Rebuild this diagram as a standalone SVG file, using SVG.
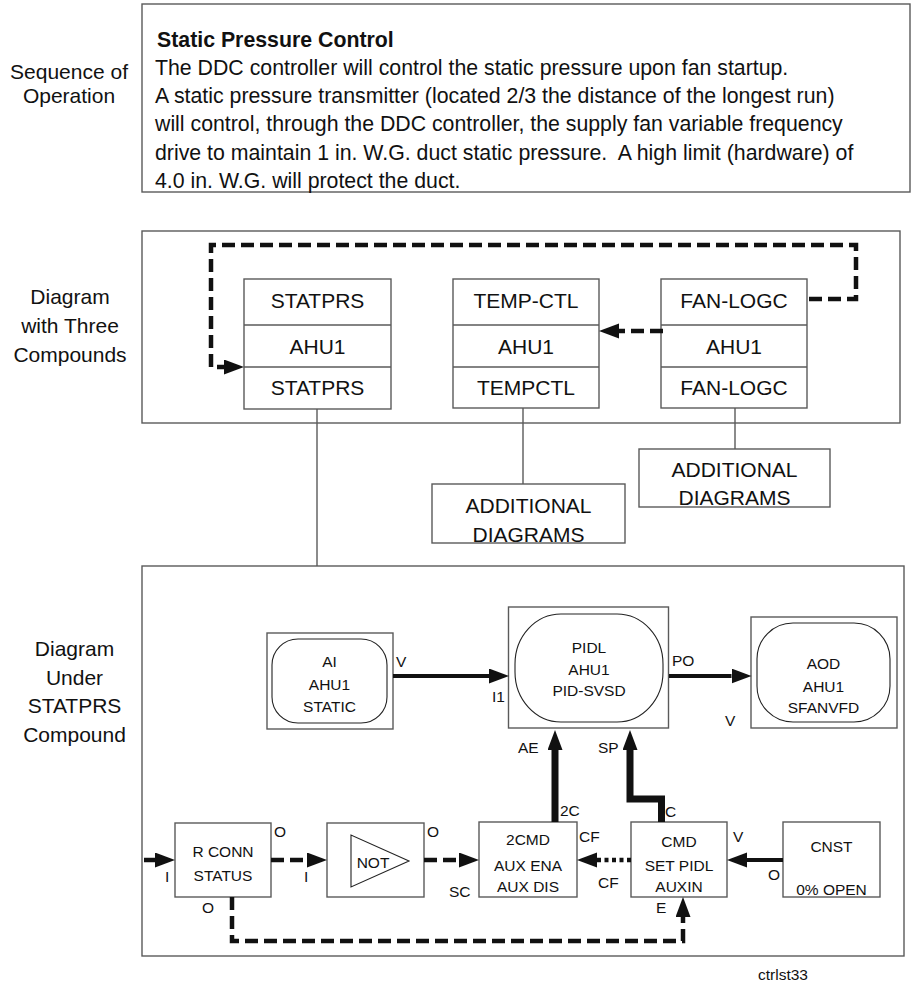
<svg xmlns="http://www.w3.org/2000/svg" width="921" height="985" viewBox="0 0 921 985">
  <style>
    text { font-family: "Liberation Sans", Arial, sans-serif; fill: #111; }
    .big { font-size: 21px; }
    .para { font-size: 21.3px; }
    .sm { font-size: 15.5px; }
    .mid { text-anchor: middle; }
    .bold { font-weight: bold; }
    .frame { fill: none; stroke: #5a5a5a; stroke-width: 1.4; }
    .box { fill: #fff; stroke: #5a5a5a; stroke-width: 1.4; }
    .inner { fill: #fff; stroke: #222; stroke-width: 1.1; }
    .tie { fill: none; stroke: #5a5a5a; stroke-width: 1.4; }
    .dash { fill: none; stroke: #111; stroke-width: 4.5; stroke-dasharray: 13 6; }
    .dot { fill: none; stroke: #111; stroke-width: 4.5; stroke-dasharray: 4 3.5; }
    .solid { fill: none; stroke: #111; stroke-width: 4; }
    .heavy { fill: none; stroke: #111; stroke-width: 7; stroke-linejoin: miter; }
  </style>
  <defs>
    <marker id="head" markerUnits="userSpaceOnUse" markerWidth="22" markerHeight="16" refX="0" refY="7.5" orient="auto">
      <path d="M0,0 L20,7.5 L0,15 z" fill="#111"/>
    </marker>
  </defs>

  <rect width="921" height="985" fill="#fff"/>

  <!-- Sequence of operation -->
  <g id="seq-label">
    <text class="big mid" x="69" y="79">Sequence of</text>
    <text class="big mid" x="69" y="103">Operation</text>
  </g>
  <g id="seq-text">
    <rect class="frame" x="142" y="4" width="768" height="188"/>
    <text class="para bold" x="157" y="47">Static Pressure Control</text>
    <text class="para" x="155" y="75">The DDC controller will control the static pressure upon fan startup.</text>
    <text class="para" x="155" y="103">A static pressure transmitter (located 2/3 the distance of the longest run)</text>
    <text class="para" x="155" y="131">will control, through the DDC controller, the supply fan variable frequency</text>
    <text class="para" x="155" y="160" xml:space="preserve">drive to maintain 1 in. W.G. duct static pressure.  A high limit (hardware) of</text>
    <text class="para" x="155" y="188">4.0 in. W.G. will protect the duct.</text>
  </g>

  <!-- Diagram with three compounds -->
  <g id="compounds-label">
    <text class="big mid" x="70" y="304">Diagram</text>
    <text class="big mid" x="70" y="333">with Three</text>
    <text class="big mid" x="70" y="362">Compounds</text>
  </g>
  <rect id="compounds-frame" class="frame" x="142" y="231" width="758" height="192"/>

  <g id="statprs">
    <rect class="box" x="244" y="279" width="147" height="130"/>
    <line class="tie" x1="244" y1="325" x2="391" y2="325"/>
    <line class="tie" x1="244" y1="367" x2="391" y2="367"/>
    <text class="big mid" x="317.5" y="308">STATPRS</text>
    <text class="big mid" x="317.5" y="354">AHU1</text>
    <text class="big mid" x="317.5" y="395">STATPRS</text>
  </g>
  <g id="temp-ctl">
    <rect class="box" x="453" y="279" width="146" height="129"/>
    <line class="tie" x1="453" y1="325" x2="599" y2="325"/>
    <line class="tie" x1="453" y1="367" x2="599" y2="367"/>
    <text class="big mid" x="526" y="308">TEMP-CTL</text>
    <text class="big mid" x="526" y="354">AHU1</text>
    <text class="big mid" x="526" y="395">TEMPCTL</text>
  </g>
  <g id="fan-logc">
    <rect class="box" x="661" y="279" width="146" height="129"/>
    <line class="tie" x1="661" y1="325" x2="807" y2="325"/>
    <line class="tie" x1="661" y1="367" x2="807" y2="367"/>
    <text class="big mid" x="734" y="308">FAN-LOGC</text>
    <text class="big mid" x="734" y="354">AHU1</text>
    <text class="big mid" x="734" y="395">FAN-LOGC</text>
  </g>
  <g id="additional-1">
    <rect class="box" x="432" y="484" width="193" height="59"/>
    <text class="big mid" x="528.5" y="513">ADDITIONAL</text>
    <text class="big mid" x="528.5" y="542">DIAGRAMS</text>
  </g>
  <g id="additional-2">
    <rect class="box" x="639" y="449" width="191" height="58"/>
    <text class="big mid" x="734.5" y="477">ADDITIONAL</text>
    <text class="big mid" x="734.5" y="505">DIAGRAMS</text>
  </g>

  <!-- Diagram under STATPRS compound -->
  <g id="statprs-label">
    <text class="big mid" x="74.5" y="656">Diagram</text>
    <text class="big mid" x="74.5" y="685">Under</text>
    <text class="big mid" x="74.5" y="713">STATPRS</text>
    <text class="big mid" x="74.5" y="742">Compound</text>
  </g>
  <rect id="statprs-frame" class="frame" x="142" y="566" width="762" height="390"/>

  <g id="ai">
    <rect class="box" x="267" y="633" width="126" height="96"/>
    <rect class="inner" x="272" y="639" width="115" height="84" rx="26" ry="26"/>
    <text class="sm mid" x="329.5" y="667">AI</text>
    <text class="sm mid" x="329.5" y="690">AHU1</text>
    <text class="sm mid" x="329.5" y="712">STATIC</text>
  </g>
  <g id="pidl">
    <rect class="box" x="508.5" y="607" width="160" height="121"/>
    <rect class="inner" x="515" y="614" width="148" height="108" rx="46" ry="50"/>
    <text class="sm mid" x="589" y="653">PIDL</text>
    <text class="sm mid" x="589" y="675">AHU1</text>
    <text class="sm mid" x="589" y="696">PID-SVSD</text>
  </g>
  <g id="aod">
    <rect class="box" x="751" y="617" width="146" height="111"/>
    <rect class="inner" x="757" y="623" width="133" height="99" rx="36" ry="36"/>
    <text class="sm mid" x="823.5" y="669">AOD</text>
    <text class="sm mid" x="823.5" y="692">AHU1</text>
    <text class="sm mid" x="823.5" y="713">SFANVFD</text>
  </g>
  <g id="r-conn">
    <rect class="box" x="175" y="823" width="96" height="74"/>
    <text class="sm mid" x="223" y="857">R CONN</text>
    <text class="sm mid" x="223" y="881">STATUS</text>
  </g>
  <g id="not">
    <rect class="box" x="327" y="823" width="97" height="74"/>
    <polygon points="351,835 351,887 409,861" fill="#fff" stroke="#222" stroke-width="1.1"/>
    <text class="sm mid" x="373" y="868">NOT</text>
  </g>
  <g id="cmd2">
    <rect class="box" x="479" y="822" width="98" height="75"/>
    <text class="sm mid" x="528" y="845">2CMD</text>
    <text class="sm mid" x="528" y="871">AUX ENA</text>
    <text class="sm mid" x="528" y="892">AUX DIS</text>
  </g>
  <g id="cmd">
    <rect class="box" x="631" y="822" width="96" height="75"/>
    <text class="sm mid" x="679" y="847">CMD</text>
    <text class="sm mid" x="679" y="871">SET PIDL</text>
    <text class="sm mid" x="679" y="892">AUXIN</text>
  </g>
  <g id="cnst">
    <rect class="box" x="783" y="822" width="97" height="75"/>
    <text class="sm mid" x="831.5" y="852">CNST</text>
    <text class="sm mid" x="831.5" y="895">0% OPEN</text>
  </g>

  <!-- terminal names -->
  <g id="terminals" class="sm">
    <text class="sm" x="396" y="667">V</text>
    <text class="sm" x="492" y="702">I1</text>
    <text class="sm" x="672" y="666">PO</text>
    <text class="sm" x="725" y="726">V</text>
    <text class="sm" x="518" y="753">AE</text>
    <text class="sm" x="598" y="753">SP</text>
    <text class="sm" x="560" y="816">2C</text>
    <text class="sm" x="665" y="817">C</text>
    <text class="sm" x="274" y="837">O</text>
    <text class="sm" x="165" y="882">I</text>
    <text class="sm" x="202" y="913">O</text>
    <text class="sm" x="427" y="837">O</text>
    <text class="sm" x="304" y="882">I</text>
    <text class="sm" x="449" y="897">SC</text>
    <text class="sm" x="579" y="842">CF</text>
    <text class="sm" x="598" y="888">CF</text>
    <text class="sm" x="733" y="842">V</text>
    <text class="sm" x="768" y="880">O</text>
    <text class="sm" x="656" y="913">E</text>
  </g>

  <!-- connectors -->
  <g id="connectors">
    <line class="tie" x1="317" y1="409" x2="317" y2="566"/>
    <line class="tie" x1="523" y1="408" x2="523" y2="484"/>
    <line class="tie" x1="735" y1="408" x2="735" y2="449"/>
    <path class="dash" d="M663,331 H619" marker-end="url(#head)"/>
    <path class="dash" d="M809,299 H856 V245 H211 V367 H224" marker-end="url(#head)"/>
    <path class="solid" d="M393,676 H489" marker-end="url(#head)"/>
    <path class="solid" d="M669,676 H731.5" marker-end="url(#head)"/>
    <path class="heavy" d="M555,822 V750" marker-end="url(#head)"/>
    <path class="heavy" d="M661.5,822 V799 H630 V750" marker-end="url(#head)"/>
    <path class="dash" d="M144,860 H155" marker-end="url(#head)"/>
    <path class="dash" d="M271,860 H307" marker-end="url(#head)"/>
    <path class="dash" d="M424,860 H459" marker-end="url(#head)"/>
    <path class="dot" d="M631,860 H597" marker-end="url(#head)"/>
    <path class="solid" d="M783,860 H747" marker-end="url(#head)"/>
    <path class="dash" d="M232,897 V941 H683 V917" marker-end="url(#head)"/>
  </g>

  <text class="sm" x="758" y="980">ctrlst33</text>
</svg>
